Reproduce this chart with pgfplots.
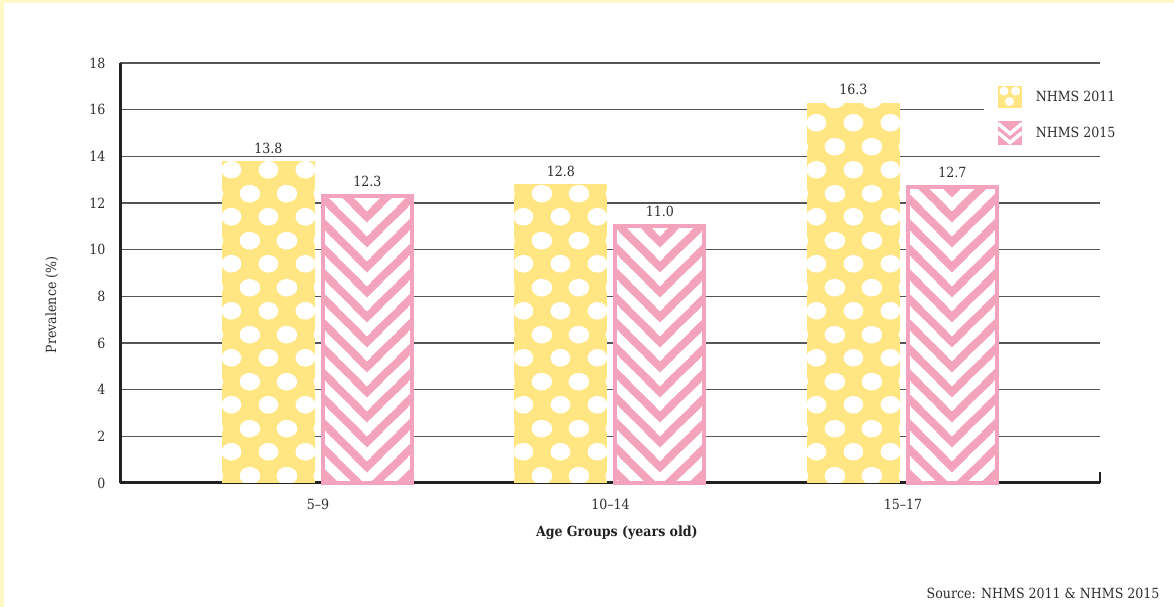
\documentclass[border=0pt]{standalone}
\usepackage{pgfplots}
\pgfplotsset{compat=1.18}
\usetikzlibrary{patterns}
\usepackage{fontspec}
\setmainfont{DejaVu Serif Condensed}

\definecolor{barYellow}{HTML}{FFE682}
\definecolor{barPink}{HTML}{F4A3BD}
\definecolor{frameYellow}{HTML}{FFF9C6}
\definecolor{inkGray}{HTML}{2E2E2E}
\definecolor{gridGray}{HTML}{555555}
\definecolor{axisBlack}{HTML}{222222}

% Tiles are sized so that one group step (292.5pt) holds a whole number of tiles;
% the offsets inside the tiles centre the dots and chevrons on each bar.
\pgfdeclarepatternformonly{polkadots}{\pgfpointorigin}{\pgfpoint{36.5625pt}{47pt}}{\pgfpoint{36.5625pt}{47pt}}{%
  \pgfpathellipse{\pgfpoint{12.5375pt}{14.5pt}}{\pgfpoint{10pt}{0pt}}{\pgfpoint{0pt}{9pt}}%
  \pgfpathellipse{\pgfpoint{30.81875pt}{38pt}}{\pgfpoint{10pt}{0pt}}{\pgfpoint{0pt}{9pt}}%
  \pgfpathellipse{\pgfpoint{-5.74375pt}{38pt}}{\pgfpoint{10pt}{0pt}}{\pgfpoint{0pt}{9pt}}%
  \pgfusepath{fill}%
}
% one V stripe with its tip at (#1,#2)
\newcommand\chevV[2]{%
  \pgfpathmoveto{\pgfpoint{#1pt-48.75pt}{#2pt+48.75pt}}%
  \pgfpathlineto{\pgfpoint{#1pt}{#2pt}}%
  \pgfpathlineto{\pgfpoint{#1pt+48.75pt}{#2pt+48.75pt}}%
}
\pgfdeclarepatternformonly{chevrons}{\pgfpointorigin}{\pgfpoint{97.5pt}{25pt}}{\pgfpoint{97.5pt}{25pt}}{%
  \pgfsetlinewidth{9.5pt}\pgfsetmiterjoin\pgfsetbuttcap
  \chevV{74.975}{-47}\chevV{74.975}{-22}\chevV{74.975}{3}\chevV{74.975}{28}%
  \chevV{-22.525}{-47}\chevV{-22.525}{-22}\chevV{-22.525}{3}\chevV{-22.525}{28}%
  \pgfusepath{stroke}%
}

\tikzset{
  polka/.style={fill=barYellow, draw=none,
    postaction={pattern=polkadots, pattern color=white}},
  chevron/.style={fill=barPink, draw=barPink, line width=4pt,
    postaction={pattern=chevrons, pattern color=white}},
}

\begin{document}
\begin{tikzpicture}
\useasboundingbox (0,0) rectangle (1174pt,607pt);
\fill[white] (0,0) rectangle (1174pt,607pt);
\fill[frameYellow] (0,603.5pt) rectangle (1174pt,607pt);
\fill[frameYellow] (0,0) rectangle (3.5pt,607pt);

\begin{axis}[
  at={(120pt,124pt)}, anchor=south west,
  scale only axis, width=980pt, height=420pt,
  clip=false,
  ybar, bar width=93pt,
  xmin=-0.67684, xmax=2.67359, ymin=0, ymax=18,
  xtick={0,1,2}, xticklabels={5--9,10--14,15--17},
  ytick={0,2,...,18},
  major tick length=0pt,
  axis x line*=bottom, axis y line*=left,
  axis line style={line width=3pt, axisBlack, -},
  ymajorgrids, major grid style={gridGray, line width=1.2pt},
  /pgf/number format/assume math mode=true,
  tick label style={font=\fontsize{14}{16}\selectfont, text=inkGray},
  yticklabel style={xshift=-11pt},
  xticklabel style={yshift=-13pt},
  xlabel={\bfseries Age Groups (years old)},
  xlabel style={at={(axis description cs:0.507,-0.119)}, anchor=center,
    font=\fontsize{14}{16}\selectfont, text=axisBlack},
  ylabel={Prevalence (\%)},
  ylabel style={at={(axis description cs:-0.0694,0.424)}, anchor=center,
    font=\fontsize{14}{16}\selectfont, text=inkGray},
  nodes near coords={\pgfmathprintnumber[fixed,fixed zerofill,precision=1]{\pgfplotspointmeta}},
  every node near coord/.append style={font=\fontsize{14}{16}\selectfont, text=inkGray, yshift=4pt},
  legend style={at={(rel axis cs:0.8817,0.9705)}, anchor=north west,
    fill=white, draw=none, font=\fontsize{14}{16}\selectfont, text=inkGray,
    inner xsep=12pt, inner ysep=10pt, row sep=13pt, column sep=10pt},
  legend cell align=left,
]

% NHMS 2011
\addplot[polka, bar shift=-49.5pt,
  legend image code/.code={%
    \pgfsetfillcolor{barYellow}%
    \pgfpathrectanglecorners{\pgfpoint{0pt}{-11pt}}{\pgfpoint{24pt}{11pt}}\pgfusepath{fill}%
    \pgfsetfillcolor{white}%
    \pgfpathcircle{\pgfpoint{6pt}{5.5pt}}{4.5pt}\pgfusepath{fill}%
    \pgfpathcircle{\pgfpoint{17.5pt}{5.5pt}}{4.5pt}\pgfusepath{fill}%
    \pgfpathcircle{\pgfpoint{11.5pt}{-5pt}}{4.5pt}\pgfusepath{fill}%
  }] coordinates {(0,13.8)};
\addlegendentry{NHMS 2011}

% NHMS 2015
\addplot[chevron, bar width=89pt, bar shift=49.5pt,
  legend image code/.code={%
    \pgfsetfillcolor{barPink}%
    \pgfpathrectanglecorners{\pgfpoint{0pt}{-12pt}}{\pgfpoint{24pt}{12pt}}\pgfusepath{fill}%
    \pgfsetstrokecolor{white}\pgfsetlinewidth{3.5pt}\pgfsetmiterjoin
    \pgfpathmoveto{\pgfpoint{0pt}{9pt}}\pgfpathlineto{\pgfpoint{12pt}{-1pt}}\pgfpathlineto{\pgfpoint{24pt}{9pt}}\pgfusepath{stroke}%
    \pgfpathmoveto{\pgfpoint{0pt}{0pt}}\pgfpathlineto{\pgfpoint{12pt}{-10pt}}\pgfpathlineto{\pgfpoint{24pt}{0pt}}\pgfusepath{stroke}%
  }] coordinates {(0,12.3)};
\addlegendentry{NHMS 2015}

\addplot[polka, bar shift=-49.5pt, forget plot] coordinates {(1,12.8)};
\addplot[chevron, bar width=89pt, bar shift=49.5pt, forget plot] coordinates {(1,11.0)};
\addplot[polka, bar shift=-49.5pt, forget plot] coordinates {(2,16.3)};
\addplot[chevron, bar width=89pt, bar shift=49.5pt, forget plot] coordinates {(2,12.7)};

% closing tick at the right end of the baseline
\draw[line width=2.5pt, axisBlack] (rel axis cs:1,0) -- ++(0pt,11pt);
\end{axis}

\node[anchor=base east, font=\fontsize{14}{16}\selectfont, text=inkGray]
  at (1163pt,9pt) {Source: NHMS 2011 \& NHMS 2015};
\end{tikzpicture}
\end{document}
